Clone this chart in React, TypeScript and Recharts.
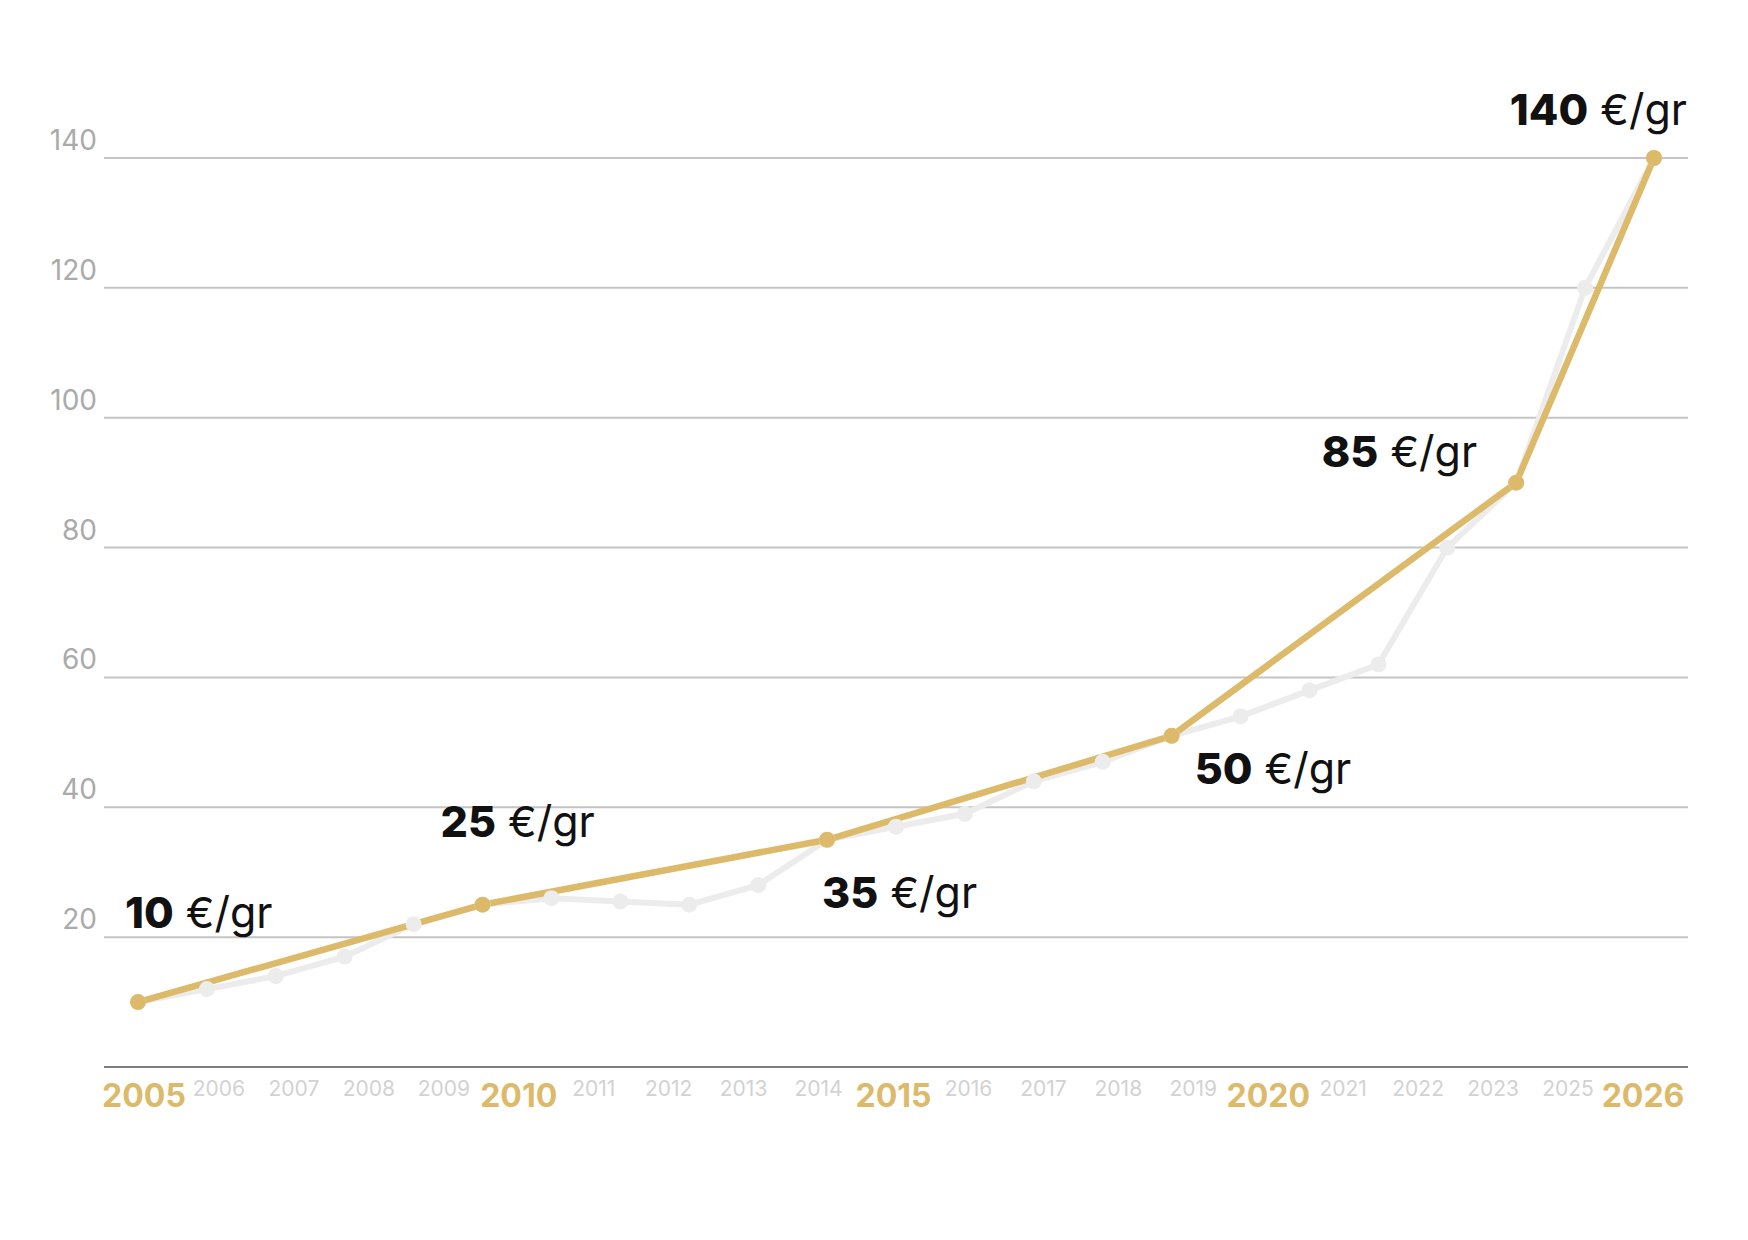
import React from 'react';
import { CartesianGrid, LabelList, Line, LineChart, XAxis, YAxis } from 'recharts';

// market price per point (grey), trend price at key points (gold)
const marketPrice = [10, 12, 14, 17, 22, 25, 26, 25.5, 25, 28, 35, 37, 39, 44, 47, 51, 54, 58, 62, 80, 90, 120, 140];
const trendPrice = [10, null, null, null, null, 25, null, null, null, null, 35, null, null, null, null, 51, null, null, null, null, 90, null, 140];
const trendLabels: Record<number, string> = { 0: '10', 5: '25', 10: '35', 15: '50', 20: '85', 22: '140' };

const yearLabels = ['2005', '2006', '2007', '2008', '2009', '2010', '2011', '2012', '2013', '2014', '2015', '2016', '2017', '2018', '2019', '2020', '2021', '2022', '2023', '2025', '2026'];
const majorYears = ['2005', '2010', '2015', '2020', '2026'];
const yTicks = [20, 40, 60, 80, 100, 120, 140];

// the year row has its own evenly spread slots, fewer than the points
const data = marketPrice.map((v, i) => ({
  idx: i,
  market: v,
  trend: trendPrice[i],
  slot: i < yearLabels.length ? i : null,
}));
const yearTicks = yearLabels.map((_, i) => i);

const FONT = 'Inter, "Open Sans", sans-serif';
const GOLD = '#dcba6a';
const GREY = '#ececec';

// where each annotation sits relative to its point
const placement: Record<number, { dx: number; dy: number; anchor: 'start' | 'end' }> = {
  0: { dx: -13, dy: -74, anchor: 'start' },
  5: { dx: -42, dy: -68, anchor: 'start' },
  10: { dx: -5, dy: 68, anchor: 'start' },
  15: { dx: 23, dy: 48, anchor: 'start' },
  20: { dx: -39, dy: -16, anchor: 'end' },
  22: { dx: 33, dy: -33, anchor: 'end' },
};

const YTick = ({ x, y, payload }: any) => (
  <text x={x} y={y - 8} textAnchor="end" fill="#aaaaaa" fontSize={28} fontFamily={FONT}>
    {payload.value}
  </text>
);

const YearTick = ({ x, y, payload }: any) => {
  const label = yearLabels[payload.value];
  const major = majorYears.includes(label);
  return (
    <text
      x={x}
      y={y + (major ? 40 : 29)}
      textAnchor="middle"
      fill={major ? GOLD : '#d2d2d2'}
      fontSize={major ? 32 : 21}
      fontWeight={major ? 700 : 400}
      fontFamily={FONT}
    >
      {label}
    </text>
  );
};

const TrendLabel = (props: any) => {
  const { x, y, index, value } = props;
  const text = trendLabels[index];
  if (value == null || !text) return null;
  const p = placement[index];
  return (
    <text x={x + p.dx} y={y + p.dy} textAnchor={p.anchor} fontSize={43} fontFamily={FONT} fill="#111">
      <tspan fontWeight={800}>{text}</tspan>
      <tspan fontWeight={400}>{' €/gr'}</tspan>
    </text>
  );
};

export default function App() {
  return (
    <div style={{ width: 1740, height: 1200, background: '#fff' }}>
      <LineChart width={1740} height={1200} data={data} margin={{ top: 150, right: 60, bottom: 81, left: 0 }}>
        <CartesianGrid vertical={false} stroke="#c4c4c4" strokeWidth={2} />
        <XAxis dataKey="idx" type="number" domain={[0, 22]} padding={{ left: 34, right: 34 }} height={0} hide />
        <XAxis
          xAxisId="labels"
          dataKey="slot"
          type="number"
          domain={[0, yearLabels.length - 1]}
          allowDataOverflow
          ticks={yearTicks}
          interval={0}
          padding={{ left: 40, right: 45 }}
          height={60}
          tickSize={0}
          tickMargin={0}
          tickLine={false}
          axisLine={{ stroke: '#7d7d7d', strokeWidth: 2 }}
          tick={<YearTick />}
        />
        <YAxis
          domain={[0, 140]}
          ticks={yTicks}
          width={96}
          axisLine={false}
          tickLine={false}
          tickSize={0}
          tickMargin={7}
          tick={<YTick />}
        />
        <Line
          dataKey="market"
          stroke={GREY}
          strokeWidth={6}
          dot={{ r: 8, fill: GREY, stroke: 'none' }}
          activeDot={false}
          isAnimationActive={false}
        />
        <Line
          dataKey="trend"
          stroke={GOLD}
          strokeWidth={6.5}
          connectNulls
          dot={{ r: 8, fill: GOLD, stroke: 'none' }}
          activeDot={false}
          isAnimationActive={false}
        >
          <LabelList dataKey="trend" content={TrendLabel} />
        </Line>
      </LineChart>
    </div>
  );
}
